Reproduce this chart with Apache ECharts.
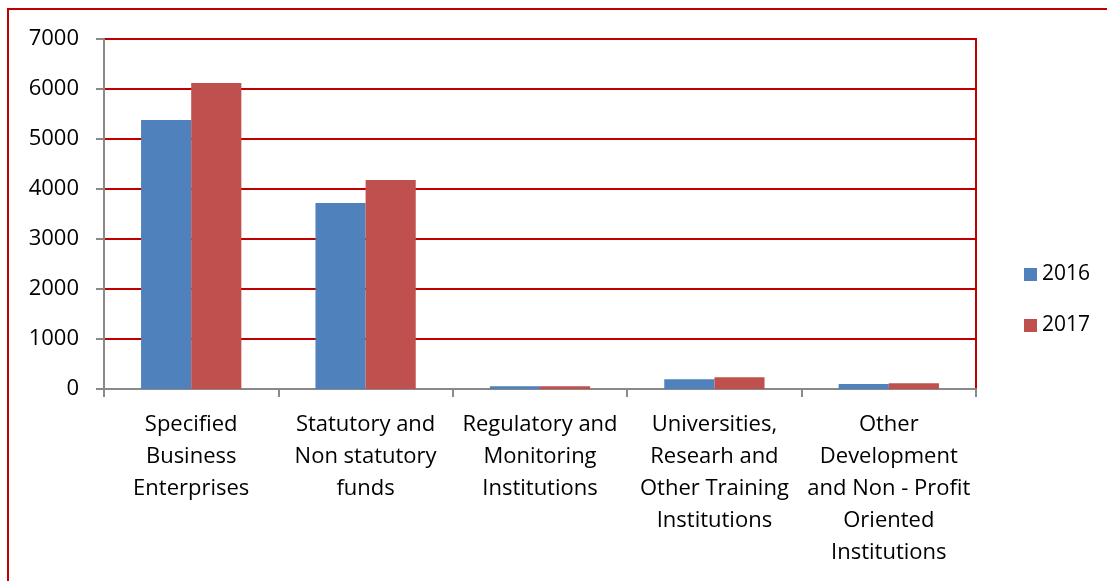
<!DOCTYPE html>
<html>
<head>
<meta charset="utf-8">
<script src="https://cdn.jsdelivr.net/npm/echarts@6/dist/echarts.min.js"></script>
<style>
  html, body { margin: 0; padding: 0; background: #fff; }
  #chart { width: 1107px; height: 581px; }
</style>
</head>
<body>
<div id="chart"></div>
<script>
// categories and values
const categories = [
    'Specified\nBusiness\nEnterprises',
    'Statutory and\nNon statutory\nfunds',
    'Regulatory and\nMonitoring\nInstitutions',
    'Universities,\nResearh and\nOther Training\nInstitutions',
    'Other\nDevelopment\nand Non - Profit\nOriented\nInstitutions'
];
const values2016 = [5380, 3720, 55, 195, 100];
const values2017 = [6120, 4180, 55, 235, 115];
const seriesNames = ['2016', '2017'];

const FONT = 'Open Sans';
const RED = '#c00000';
const GREY = '#898989';

const chart = echarts.init(document.getElementById('chart'));

chart.setOption({
    animation: false,
    backgroundColor: '#fff',
    textStyle: { fontFamily: FONT },
    graphic: [{
        type: 'rect',
        shape: { x: 8, y: 9, width: 1200, height: 700 },
        style: { fill: 'none', stroke: RED, lineWidth: 2 },
        silent: true
    }],
    grid: {
        left: 104, right: 131, top: 39, bottom: 192,
        show: true, borderColor: RED, borderWidth: 2
    },
    legend: {
        orient: 'vertical',
        left: 1019, top: 259,
        itemWidth: 13, itemHeight: 13, itemGap: 30,
        icon: 'rect',
        textStyle: { fontSize: 21, lineHeight: 20, color: '#000', fontFamily: FONT },
        data: seriesNames
    },
    xAxis: {
        type: 'category',
        data: categories,
        axisLine: { lineStyle: { color: GREY, width: 2 } },
        axisTick: { show: true, length: 8, lineStyle: { color: GREY, width: 2 } },
        axisLabel: {
            interval: 0, margin: 20, color: '#000',
            fontSize: 22, lineHeight: 32, fontFamily: FONT
        }
    },
    yAxis: {
        type: 'value',
        min: 0, max: 7000, interval: 1000,
        axisLine: { show: true, lineStyle: { color: GREY, width: 2 } },
        axisTick: { show: true, length: 8, lineStyle: { color: GREY, width: 2 } },
        axisLabel: {
            margin: 25, color: '#000', fontSize: 22, fontFamily: FONT,
            formatter: v => String(v)
        },
        splitLine: { lineStyle: { color: RED, width: 2 } }
    },
    series: [
        {
            name: seriesNames[0], type: 'bar', data: values2016,
            barGap: '0%', barCategoryGap: '42.5%',
            itemStyle: { color: '#4f81bd' }
        },
        {
            name: seriesNames[1], type: 'bar', data: values2017,
            itemStyle: { color: '#c0504d' }
        }
    ]
});
</script>
</body>
</html>
